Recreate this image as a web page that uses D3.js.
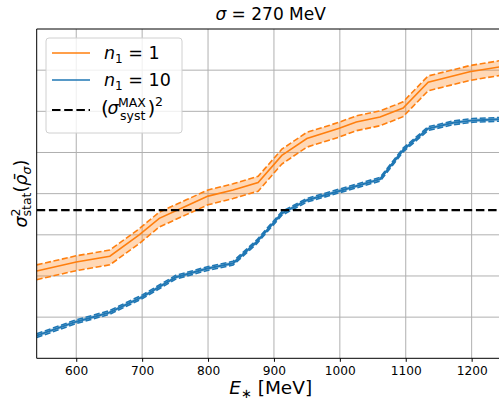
<!DOCTYPE html>
<html>
<head>
<meta charset="utf-8">
<script src="https://cdn.jsdelivr.net/npm/d3@7"></script>
<style>
	body{margin:0;background:#fff;}
	text{font-family:'DejaVu Sans',sans-serif;}
</style>
</head>
<body>
<svg id="chart" width="499" height="401"></svg>
<script>
// E* grid of each curve, MeV
var orangeE = [540, 600, 651, 695, 726, 767, 800, 838, 876, 912, 950, 998, 1025, 1061, 1096, 1134, 1167, 1197, 1250];
var orangeMid = [2.12, 2.34, 2.48, 2.99, 3.40, 3.70, 3.94, 4.09, 4.27, 4.93, 5.34, 5.58, 5.74, 5.86, 6.08, 6.71, 6.84, 6.96, 7.10];
var orangeHi = [2.27, 2.49, 2.63, 3.14, 3.55, 3.85, 4.09, 4.24, 4.42, 5.08, 5.49, 5.73, 5.89, 6.01, 6.23, 6.86, 6.99, 7.11, 7.25];
var orangeLo = [1.91, 2.13, 2.27, 2.78, 3.19, 3.49, 3.73, 3.88, 4.06, 4.72, 5.13, 5.37, 5.53, 5.65, 5.87, 6.50, 6.63, 6.75, 6.89];

var blueE = [540, 600, 650, 701, 751, 799, 838, 874, 912, 950, 998, 1061, 1096, 1134, 1172, 1202, 1250];
var blueMid = [0.55, 0.89, 1.11, 1.50, 1.97, 2.18, 2.31, 2.83, 3.52, 3.84, 4.06, 4.35, 5.06, 5.58, 5.72, 5.78, 5.81];
var blueHi = [0.595, 0.935, 1.155, 1.545, 2.015, 2.225, 2.355, 2.875, 3.565, 3.885, 4.105, 4.395, 5.105, 5.625, 5.765, 5.825, 5.855];
var blueLo = [0.505, 0.845, 1.065, 1.455, 1.925, 2.135, 2.265, 2.785, 3.475, 3.795, 4.015, 4.305, 5.015, 5.535, 5.675, 5.735, 5.765];

var sysMax = 3.60;

var xTicks = [600, 700, 800, 900, 1000, 1100, 1200];
var yGrid = [1, 2, 3, 4, 5, 6, 7];

(function(){
var W = 499, H = 401;
var pL = 36.7, pT = 29, pR = 504.6, pB = 358.3;

var svg = d3.select('#chart');
var x = d3.scaleLinear().domain([540, 1250]).range([pL, pR]);
var y = d3.scaleLinear().domain([0, 8]).range([pB, pT]);

svg.append('clipPath').attr('id', 'clip')
	.append('rect')
	.attr('x', pL).attr('y', pT)
	.attr('width', pR - pL).attr('height', pB - pT);

//grid
var grid = svg.append('g').attr('clip-path', 'url(#clip)');
grid.selectAll('line.gx').data(xTicks).enter().append('line')
	.attr('x1', function(d){return x(d);}).attr('x2', function(d){return x(d);})
	.attr('y1', pT).attr('y2', pB)
	.attr('stroke', '#b0b0b0').attr('stroke-width', 1);
grid.selectAll('line.gy').data(yGrid).enter().append('line')
	.attr('x1', pL).attr('x2', pR)
	.attr('y1', function(d){return y(d);}).attr('y2', function(d){return y(d);})
	.attr('stroke', '#b0b0b0').attr('stroke-width', 1);

var plot = svg.append('g').attr('clip-path', 'url(#clip)');

function drawBand(E, mid, hi, lo, color, fill, dash, lw){
	var area = d3.area()
		.x(function(d, i){return x(E[i]);})
		.y0(function(d, i){return y(lo[i]);})
		.y1(function(d, i){return y(hi[i]);});
	var line = d3.line().x(function(d, i){return x(E[i]);}).y(function(d){return y(d);});
	plot.append('path').attr('d', area(mid)).attr('fill', fill).attr('stroke', 'none');
	plot.append('path').attr('d', line(mid))
		.attr('fill', 'none').attr('stroke', color).attr('stroke-width', lw);
	[hi, lo].forEach(function(arr){
		plot.append('path').attr('d', line(arr))
			.attr('fill', 'none').attr('stroke', color).attr('stroke-width', 1.6)
			.attr('stroke-dasharray', dash);
	});
}

drawBand(orangeE, orangeMid, orangeHi, orangeLo, '#ff7f0e', 'rgba(255,127,14,0.3)', '6,2.6', 1.6);
drawBand(blueE, blueMid, blueHi, blueLo, '#1f77b4', 'rgba(31,119,180,0.3)', '6,2.6', 2);

//systematic limit
plot.append('line')
	.attr('x1', pL).attr('x2', pR)
	.attr('y1', y(sysMax)).attr('y2', y(sysMax))
	.attr('stroke', '#000').attr('stroke-width', 2.2)
	.attr('stroke-dasharray', '8.5,3.7');

//spines
svg.append('line').attr('x1', pL).attr('x2', pL).attr('y1', pT).attr('y2', pB)
	.attr('stroke', '#000').attr('stroke-width', 1);
svg.append('line').attr('x1', pL).attr('x2', W).attr('y1', pB).attr('y2', pB)
	.attr('stroke', '#000').attr('stroke-width', 1);
svg.append('line').attr('x1', pL).attr('x2', W).attr('y1', pT).attr('y2', pT)
	.attr('stroke', '#000').attr('stroke-width', 1);

//x axis
var xAxis = d3.axisBottom(x).tickValues(xTicks).tickFormat(d3.format('d'))
	.tickSize(3.5).tickPadding(5);
var ax = svg.append('g').attr('transform', 'translate(0,' + pB + ')').call(xAxis);
ax.select('.domain').remove();
ax.selectAll('text').attr('font-size', 12.2).attr('fill', '#000')
	.attr('font-family', 'DejaVu Sans');
ax.selectAll('line').attr('stroke', '#000');

var cx = (pL + pR) / 2;

//title
var t = svg.append('text').attr('x', cx).attr('y', 20).attr('text-anchor', 'middle')
	.attr('font-size', 17);
t.append('tspan').attr('font-style', 'italic').text('σ');
t.append('tspan').text(' = 270 MeV');

//x label
var xl = svg.append('text').attr('x', cx).attr('y', 394).attr('text-anchor', 'middle')
	.attr('font-size', 18.5);
xl.append('tspan').attr('font-style', 'italic').text('E');
xl.append('tspan').attr('font-size', 13).attr('dy', 4).text('∗');
xl.append('tspan').attr('dy', -4).text(' [MeV]');

//y label
var yl = svg.append('text').attr('transform', 'translate(27,' + ((pT + pB) / 2) + ') rotate(-90)')
	.attr('text-anchor', 'middle').attr('font-size', 17.5);
yl.append('tspan').attr('font-style', 'italic').text('σ');
yl.append('tspan').attr('font-size', 12.5).attr('dy', -7).text('2');
yl.append('tspan').attr('font-size', 12.5).attr('dx', -8).attr('dy', 11).text('stat');
yl.append('tspan').attr('dy', -4).text('(');
yl.append('tspan').attr('font-style', 'italic').text('ρ̄');
yl.append('tspan').attr('font-style', 'italic').attr('font-size', 12.5).attr('dy', 4).text('σ');
yl.append('tspan').attr('dy', -4).text(')');

//legend
var lg = svg.append('g');
lg.append('rect').attr('x', 46).attr('y', 38).attr('width', 136).attr('height', 95)
	.attr('rx', 3).attr('fill', 'rgba(255,255,255,0.8)')
	.attr('stroke', '#d0d0d0').attr('stroke-width', 1);
var items = [
	{c:'#ff7f0e', dash:null, ly:53, ty:59, n:'1'},
	{c:'#1f77b4', dash:null, ly:80, ty:86, n:'10'},
	{c:'#000', dash:'8.5,3.7', ly:110, ty:116, n:null}
];
items.forEach(function(it){
	var ln = lg.append('line').attr('x1', 52).attr('x2', 90).attr('y1', it.ly).attr('y2', it.ly)
		.attr('stroke', it.c).attr('stroke-width', it.dash ? 2.2 : 1.6);
	if (it.dash) ln.attr('stroke-dasharray', it.dash);
	if (it.n){
		var tx = lg.append('text').attr('x', 104).attr('y', it.ty).attr('font-size', 17.5);
		tx.append('tspan').attr('font-style', 'italic').text('n');
		tx.append('tspan').attr('font-size', 12).attr('dy', 4).text('1');
		tx.append('tspan').attr('dy', -4).text(' = ' + it.n);
	}else{
		// (sigma^MAX_syst)^2 built piece by piece
		var by = it.ty - 1;
		lg.append('text').attr('x', 101).attr('y', by).attr('font-size', 20).text('(');
		lg.append('text').attr('x', 107.5).attr('y', by - 1).attr('font-size', 17.5)
			.attr('font-style', 'italic').text('σ');
		lg.append('text').attr('x', 118).attr('y', by - 8.5).attr('font-size', 12.5).text('MAX');
		lg.append('text').attr('x', 120).attr('y', by + 5).attr('font-size', 12.5).text('syst');
		lg.append('text').attr('x', 147.5).attr('y', by).attr('font-size', 20).text(')');
		lg.append('text').attr('x', 155).attr('y', by - 9.5).attr('font-size', 12.5).text('2');
	}
});
})();
</script>
</body>
</html>
